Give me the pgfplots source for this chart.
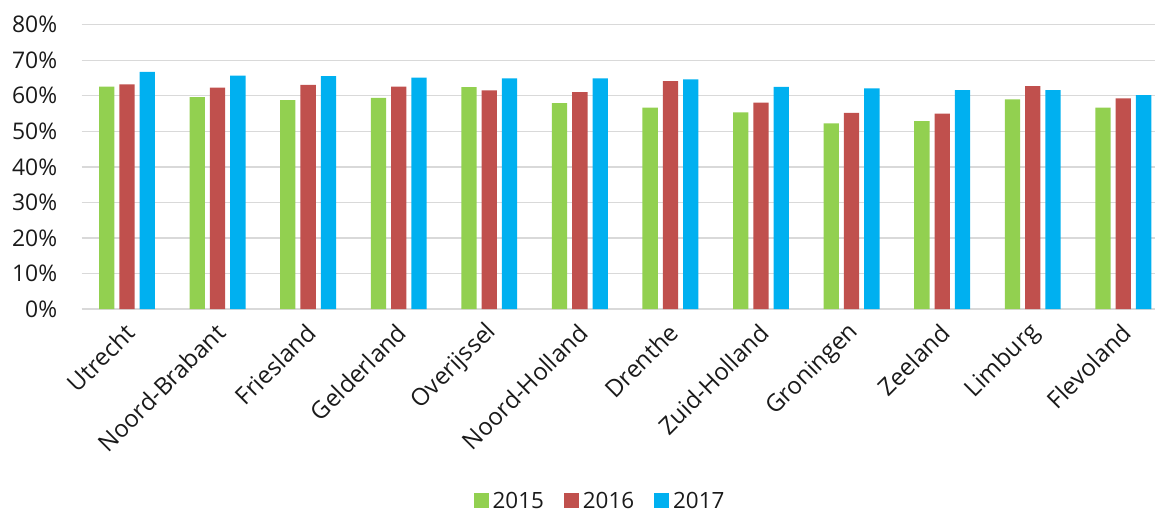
\documentclass[border=0pt]{standalone}
\usepackage{pgfplots}
\pgfplotsset{compat=1.18}
\usepackage{fontspec}
\setmainfont{Open Sans}
\definecolor{c15}{HTML}{92D050}
\definecolor{c16}{HTML}{C0504D}
\definecolor{c17}{HTML}{00B0F0}
\definecolor{gridgrey}{HTML}{D9D9D9}
\definecolor{txt}{HTML}{1A1A1A}
\begin{document}
\begin{tikzpicture}
\begin{axis}[
    scale only axis,
    width=1073.3bp, height=284.3bp,
    xmin=-0.5, xmax=11.35,
    ymin=0, ymax=80,
    ytick={0,10,...,80},
    yticklabel={\pgfmathprintnumber{\tick}\%},
    /pgf/number format/assume math mode=true,
    xtick={0,...,11},
    xticklabels={Utrecht,Noord-Brabant,Friesland,Gelderland,Overijssel,Noord-Holland,Drenthe,Zuid-Holland,Groningen,Zeeland,Limburg,Flevoland},
    ymajorgrids,
    grid style={gridgrey, line width=1.4bp},
    axis line style={draw=none},
    major tick length=0pt,
    tick label style={text=txt},
    yticklabel style={font=\fontsize{23}{27}\selectfont, xshift=-21bp},
    xticklabel style={font=\fontsize{24}{28}\selectfont, rotate=45, anchor=east, xshift=-8bp, yshift=-16bp},
    ybar, bar width=15.3bp,
    legend columns=3,
    legend style={draw=none, at={(rel axis cs:0.4829,-0.675)}, anchor=center,
        font=\fontsize{22.5}{26}\selectfont, text=txt,
        /tikz/every odd column/.append style={column sep=2bp},
        /tikz/every even column/.append style={column sep=18bp}},
    legend image code/.code={\fill[#1] (0bp,-7.5bp) rectangle (15bp,7.5bp);},
    clip=false,
]
\addplot[draw=none, fill=c15, bar shift=-20.3bp] coordinates {
(0,62.6) (1,59.6) (2,58.8) (3,59.4) (4,62.4) (5,57.9)
(6,56.7) (7,55.3) (8,52.2) (9,52.9) (10,59.0) (11,56.7)};
\addplot[draw=none, fill=c16, bar shift=0bp] coordinates {
(0,63.2) (1,62.3) (2,63.1) (3,62.6) (4,61.5) (5,61.0)
(6,64.1) (7,58.1) (8,55.2) (9,55.0) (10,62.7) (11,59.3)};
\addplot[draw=none, fill=c17, bar shift=20.3bp] coordinates {
(0,66.7) (1,65.7) (2,65.5) (3,65.1) (4,64.9) (5,64.9)
(6,64.6) (7,62.5) (8,62.1) (9,61.6) (10,61.6) (11,60.2)};
\legend{2015,2016,2017}
\coordinate (sw) at (rel axis cs:0,0);
\coordinate (ne) at (rel axis cs:1,1);
\end{axis}
\pgfresetboundingbox
\path[use as bounding box] ([xshift=-81.7bp, yshift=-204bp]sw) rectangle ([yshift=24.7bp]ne);
\end{tikzpicture}
\end{document}
